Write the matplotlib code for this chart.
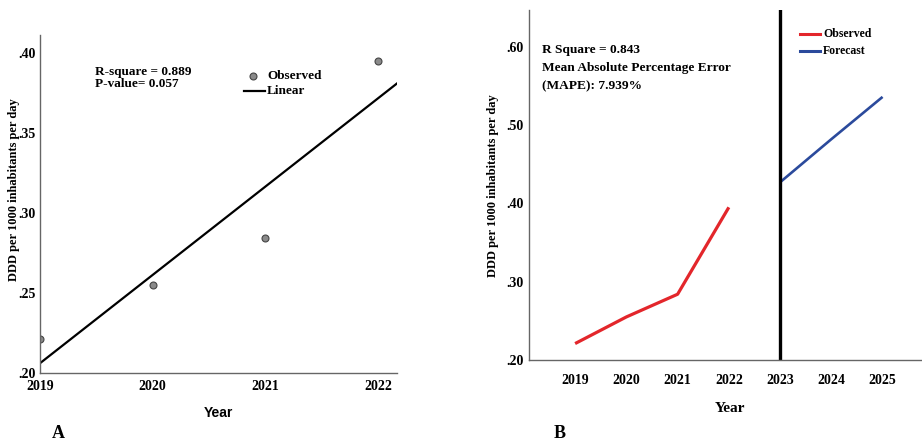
import numpy as np
import matplotlib
matplotlib.use("Agg")
import matplotlib.pyplot as plt
from matplotlib.lines import Line2D

# Antibiotic consumption, DDD per 1000 inhabitants per day
obs_years = [2019, 2020, 2021, 2022]
obs_values = [0.221, 0.255, 0.284, 0.395]
fc_years = [2023, 2024, 2025]
fc_values = [0.427, 0.482, 0.536]
year_ticks_a = [2019, 2020, 2021, 2022]
year_ticks_b = [2019, 2020, 2021, 2022, 2023, 2024, 2025]
y_ticks_a = [0.20, 0.25, 0.30, 0.35, 0.40]
y_ticks_b = [0.20, 0.30, 0.40, 0.50, 0.60]

W, H = 922, 443
fig = plt.figure(figsize=(W / 100, H / 100), dpi=100)
SERIF = "Liberation Serif"
SPINE = "#666666"


def box(l, t, r, b):
    return [l / W, 1 - b / H, (r - l) / W, (b - t) / H]


def fxy(x, y):
    return x / W, 1 - y / H


def fmt(v):
    return f"{v:.2f}"[1:]


def style(ax):
    for s in ("top", "right"):
        ax.spines[s].set_visible(False)
    for s in ("left", "bottom"):
        ax.spines[s].set_color(SPINE)
        ax.spines[s].set_linewidth(1.0)
    ax.tick_params(length=0)
    for lab in ax.get_xticklabels() + ax.get_yticklabels():
        lab.set_fontfamily(SERIF)
        lab.set_fontweight("bold")
        lab.set_fontsize(10)


# ---- Panel A: observed values with linear trend ----
axA = fig.add_axes(box(40, 35, 397, 373))
x = np.array(obs_years, dtype=float)
y = np.array(obs_values)
slope, icpt = np.polyfit(x - 2019, y, 1)
xl = np.array([2019, 2022.17])
axA.plot(xl, icpt + slope * (xl - 2019), color="black", lw=1.6)
axA.plot(x, y, "o", ms=5, mfc="#8a8a8a", mec="#444444", mew=0.8)
axA.set_xlim(2019, 2022.17)
axA.set_ylim(0.20, 0.411)
axA.set_xticks(year_ticks_a)
axA.set_xticklabels([str(t) for t in year_ticks_a])
axA.set_yticks(y_ticks_a)
axA.set_yticklabels([fmt(t) for t in y_ticks_a])
style(axA)
axA.tick_params(axis="x", pad=5)
axA.tick_params(axis="y", pad=3)

fig.text(*fxy(95, 72), "R-square = 0.889", family=SERIF, weight="bold",
         fontsize=9.5, va="center")
fig.text(*fxy(95, 84), "P-value= 0.057", family=SERIF, weight="bold",
         fontsize=9.5, va="center")
fig.lines.append(Line2D([253 / W], [1 - 76 / H], transform=fig.transFigure,
                        marker="o", ms=5, mfc="#8a8a8a", mec="#444444",
                        mew=0.8))
fig.lines.append(Line2D([244 / W, 265 / W], [1 - 91 / H, 1 - 91 / H],
                        transform=fig.transFigure, color="black", lw=1.6))
fig.text(*fxy(267, 76), "Observed", family=SERIF, weight="bold",
         fontsize=9.5, va="center")
fig.text(*fxy(267, 91), "Linear", family=SERIF, weight="bold",
         fontsize=9.5, va="center")
fig.text(*fxy(14, 190), "DDD per 1000 inhabitants per day", family=SERIF,
         weight="bold", fontsize=9, rotation=90, ha="center", va="center")
fig.text(*fxy(218, 413), "Year", family="Liberation Sans", weight="bold",
         fontsize=10, ha="center", va="center")
fig.text(*fxy(58, 433), "A", family=SERIF, weight="bold",
         fontsize=13, ha="center", va="center")

# ---- Panel B: observed series and forecast ----
axB = fig.add_axes(box(529, 10, 921, 360))
axB.plot(obs_years, obs_values, color="#e3262b", lw=2.3,
         solid_capstyle="butt")
axB.plot(fc_years, fc_values, color="#2b4a9c", lw=1.9,
         solid_capstyle="butt")
axB.axvline(2023, color="black", lw=2.4)
axB.set_xlim(2018.1, 2025.75)
axB.set_ylim(0.20, 0.647)
axB.set_xticks(year_ticks_b)
axB.set_xticklabels([str(t) for t in year_ticks_b])
axB.set_yticks(y_ticks_b)
axB.set_yticklabels([fmt(t) for t in y_ticks_b])
style(axB)
axB.tick_params(axis="x", pad=10)
axB.tick_params(axis="y", pad=4)

for i, s in enumerate(["R Square = 0.843",
                       "Mean Absolute Percentage Error",
                       "(MAPE): 7.939%"]):
    fig.text(*fxy(542, 50 + 18 * i), s, family=SERIF, weight="bold",
             fontsize=9.6, va="center")
for yy, col, lab in [(34, "#e3262b", "Observed"), (51, "#2b4a9c", "Forecast")]:
    fig.lines.append(Line2D([800 / W, 820 / W], [1 - yy / H, 1 - yy / H],
                            transform=fig.transFigure, color=col, lw=2.2))
    fig.text(*fxy(823, yy), lab, family=SERIF, weight="bold",
             fontsize=8.5, va="center")
fig.text(*fxy(493, 186), "DDD per 1000 inhabitants per day", family=SERIF,
         weight="bold", fontsize=9, rotation=90, ha="center", va="center")
fig.text(*fxy(730, 408), "Year", family=SERIF, weight="bold",
         fontsize=11, ha="center", va="center")
fig.text(*fxy(560, 433), "B", family=SERIF, weight="bold",
         fontsize=13, ha="center", va="center")

fig.savefig("out.png", dpi=100)
